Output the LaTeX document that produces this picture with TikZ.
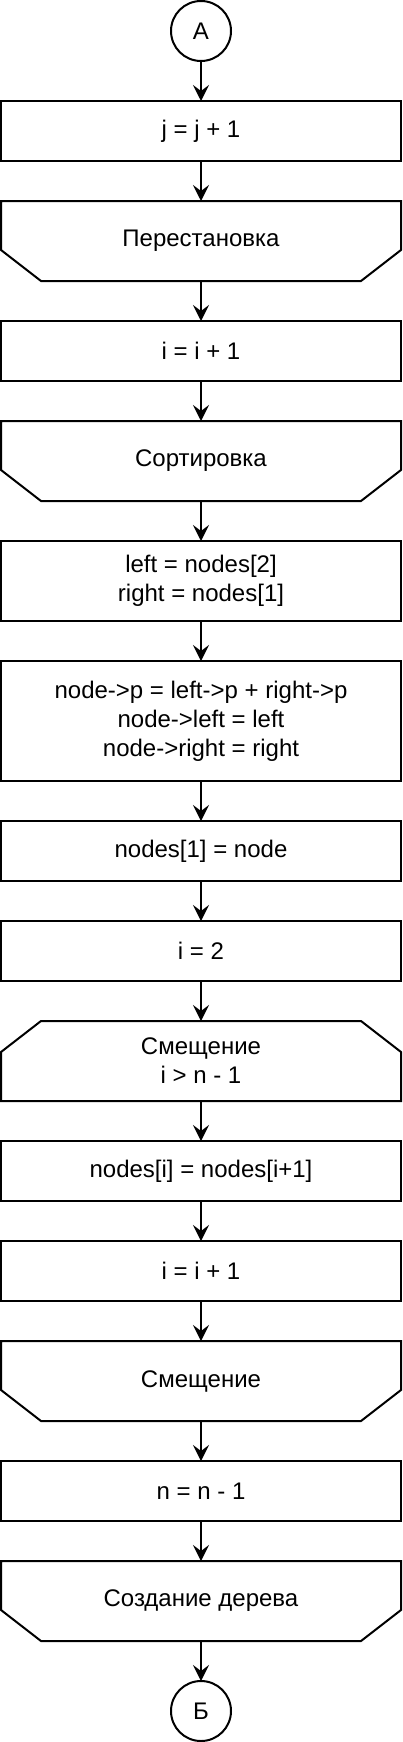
\documentclass[tikz,border=0pt]{standalone}
\usepackage{fontspec}
\setmainfont{Liberation Sans}
\usetikzlibrary{arrows.meta,positioning}

% loop limits: cut corners at the bottom (end) or at the top (begin)
\newcommand{\lpend}[1]{%
  \draw[line width=2pt] (#1.north west) -- (#1.north east) -- ([yshift=31pt]#1.south east)
    -- ([xshift=-40pt]#1.south east) -- ([xshift=40pt]#1.south west) -- ([yshift=31pt]#1.south west) -- cycle;}
\newcommand{\lpbeg}[1]{%
  \draw[line width=2pt] (#1.south west) -- (#1.south east) -- ([yshift=-31pt]#1.north east)
    -- ([xshift=-40pt]#1.north east) -- ([xshift=40pt]#1.north west) -- ([yshift=-31pt]#1.north west) -- cycle;}

\begin{document}
\begin{tikzpicture}[x=1pt,y=1pt,node distance=40pt,
  every node/.style={font=\fontsize{24}{29}\selectfont,inner sep=0pt,outer sep=0pt,align=center},
  blk/.style={draw,line width=2pt,rectangle,minimum width=400pt,minimum height=60pt},
  lp/.style={rectangle,minimum width=400pt,minimum height=80pt},
  conn/.style={draw,line width=2pt,circle,minimum size=60pt},
  arr/.style={-{Stealth[length=16pt,width=16pt,inset=6pt]},line width=2pt}]
\useasboundingbox (0,0) rectangle (402,-1742);

\node[conn] (A) at (201,-31) {А};
\node[blk,below=of A] (jinc) {j = j + 1};
\node[lp,below=of jinc] (perm) {Перестановка};
\node[blk,below=of perm] (iinc) {i = i + 1};
\node[lp,below=of iinc] (sort) {Сортировка};
\node[blk,minimum height=80pt,below=of sort] (lr) {left = nodes[2]\\right = nodes[1]};
\node[blk,minimum height=120pt,below=of lr] (np) {node->p = left->p + right->p\\node->left = left\\node->right = right};
\node[blk,below=of np] (n1) {nodes[1] = node};
\node[blk,below=of n1] (i2) {i = 2};
\node[lp,below=of i2] (shb) {Смещение\\i > n - 1};
\node[blk,below=of shb] (ni) {nodes[i] = nodes[i+1]};
\node[blk,below=of ni] (iinc2) {i = i + 1};
\node[lp,below=of iinc2] (she) {Смещение};
\node[blk,below=of she] (ndec) {n = n - 1};
\node[lp,below=of ndec] (tree) {Создание дерева};
\node[conn,below=of tree] (B) {Б};

\lpend{perm}
\lpend{sort}
\lpbeg{shb}
\lpend{she}
\lpend{tree}

\draw[arr] (A) -- (jinc);
\draw[arr] (jinc) -- (perm);
\draw[arr] (perm) -- (iinc);
\draw[arr] (iinc) -- (sort);
\draw[arr] (sort) -- (lr);
\draw[arr] (lr) -- (np);
\draw[arr] (np) -- (n1);
\draw[arr] (n1) -- (i2);
\draw[arr] (i2) -- (shb);
\draw[arr] (shb) -- (ni);
\draw[arr] (ni) -- (iinc2);
\draw[arr] (iinc2) -- (she);
\draw[arr] (she) -- (ndec);
\draw[arr] (ndec) -- (tree);
\draw[arr] (tree) -- (B);
\end{tikzpicture}
\end{document}
